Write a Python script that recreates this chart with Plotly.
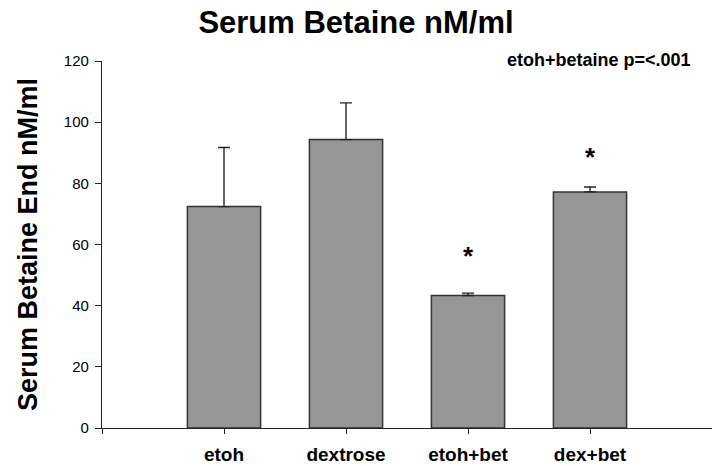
import plotly.graph_objects as go

categories = ["etoh", "dextrose", "etoh+bet", "dex+bet"]
means = [72.4, 94.3, 43.3, 77.2]
errors = [19.3, 12.0, 0.8, 1.6]
sig_labels = ["", "", "*", "*"]
sig_heights = [None, None, 56.4, 88.6]
y_ticks = [0, 20, 40, 60, 80, 100, 120]

FONT = "Arial, Liberation Sans, sans-serif"

fig = go.Figure()
fig.add_trace(go.Bar(
    x=list(range(len(categories))), y=means,
    marker=dict(color="#969696", line=dict(color="#333333", width=1.5)),
    error_y=dict(type="data", array=errors, symmetric=False,
                 arrayminus=[0] * len(errors),
                 color="#222222", thickness=1.4, width=6),
    width=0.6,
))

for i, (lab, h) in enumerate(zip(sig_labels, sig_heights)):
    if lab:
        fig.add_annotation(x=i, y=h, text=f"<b>{lab}</b>", showarrow=False,
                           font=dict(family=FONT, size=26, color="black"),
                           xref="x", yref="y")

fig.add_annotation(x=(693 - 102) / 610, y=1 + (61 - 60) / 367, xref="paper", yref="paper",
                   text="<b>etoh+betaine p=<.001</b>",
                   showarrow=False, xanchor="right", yanchor="middle",
                   font=dict(family=FONT, size=18, color="black"))

fig.update_layout(
    width=712, height=466,
    margin=dict(l=102, r=0, t=61, b=38, autoexpand=False),
    paper_bgcolor="white", plot_bgcolor="white",
    showlegend=False,
    title=dict(text="<b>Serum Betaine nM/ml</b>", x=0.5, xref="container",
               y=1 - 22 / 466, yref="container", xanchor="center", yanchor="middle",
               font=dict(family=FONT, size=31, color="black")),
    xaxis=dict(range=[-1, 4], tickmode="array", tickvals=[-1] + list(range(len(categories))),
               ticktext=[""] + [f"<b>{c}</b>" for c in categories],
               showline=True, linecolor="#222222", linewidth=1.3,
               ticks="outside", ticklen=5, tickcolor="#222222", tickwidth=1.3,
               ticklabelstandoff=4, automargin=False,
               tickfont=dict(family=FONT, size=19, color="black"),
               showgrid=False, zeroline=False, fixedrange=True),
    yaxis=dict(range=[0, 120], tickmode="array", tickvals=y_ticks,
               showline=True, linecolor="#222222", linewidth=1.3,
               ticks="outside", ticklen=6, tickcolor="#222222", tickwidth=1.3,
               ticklabelstandoff=3, automargin=True,
               tickfont=dict(family=FONT, size=15, color="black"),
               title=dict(text="<b>Serum Betaine End nM/ml</b>", standoff=18,
                          font=dict(family=FONT, size=27, color="black")),
               showgrid=False, zeroline=False, fixedrange=True),
)

fig.write_html("out.html")
